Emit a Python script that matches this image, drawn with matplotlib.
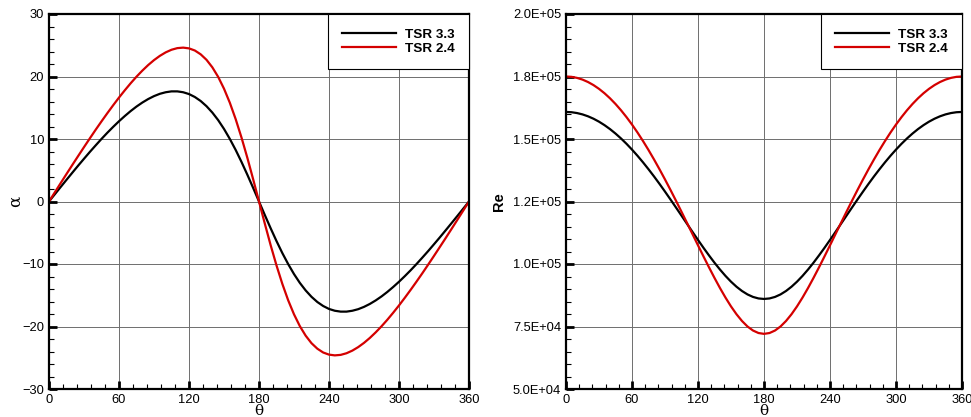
import matplotlib
matplotlib.use("Agg")
import matplotlib.pyplot as plt
from matplotlib.ticker import MultipleLocator, FixedLocator, FixedFormatter
import numpy as np

# azimuth angle (deg), read every 5 degrees
theta = np.arange(0, 361, 5)

# angle of attack (deg)
alpha_33 = [0, 1.16, 2.32, 3.47, 4.61, 5.74, 6.84, 7.93, 8.98, 10.01, 11.00, 11.94, 12.84,
            13.68, 14.47, 15.19, 15.83, 16.39, 16.86, 17.23, 17.48, 17.62, 17.62, 17.48,
            17.19, 16.72, 16.08, 15.25, 14.23, 13.02, 11.61, 10.01, 8.25, 6.33, 4.29, 2.17,
            0, -2.17, -4.29, -6.33, -8.25, -10.01, -11.61, -13.02, -14.23, -15.25, -16.08,
            -16.72, -17.19, -17.48, -17.62, -17.62, -17.48, -17.23, -16.86, -16.39, -15.83,
            -15.19, -14.47, -13.68, -12.84, -11.94, -11.00, -10.01, -8.98, -7.93, -6.84,
            -5.74, -4.61, -3.47, -2.32, -1.16, 0]
alpha_24 = [0, 1.47, 2.94, 4.40, 5.85, 7.28, 8.70, 10.10, 11.48, 12.82, 14.13, 15.40, 16.63,
            17.80, 18.92, 19.97, 20.94, 21.83, 22.62, 23.30, 23.86, 24.28, 24.54, 24.62,
            24.50, 24.16, 23.55, 22.67, 21.47, 19.94, 18.05, 15.80, 13.18, 10.23, 7.00, 3.55,
            0, -3.55, -7.00, -10.23, -13.18, -15.80, -18.05, -19.94, -21.47, -22.67, -23.55,
            -24.16, -24.50, -24.62, -24.54, -24.28, -23.86, -23.30, -22.62, -21.83, -20.94,
            -19.97, -18.92, -17.80, -16.63, -15.40, -14.13, -12.82, -11.48, -10.10, -8.70,
            -7.28, -5.85, -4.40, -2.94, -1.47, 0]

# Reynolds number
re_33 = [160820, 160710, 160380, 159840, 159080, 158110, 156930, 155540, 153960, 152180,
         150220, 148080, 145760, 143290, 140670, 137910, 135040, 132050, 128960, 125800,
         122590, 119340, 116080, 112830, 109620, 106470, 103430, 100510, 97770, 95230,
         92930, 90910, 89200, 87830, 86830, 86220, 86020, 86220, 86830, 87830, 89200,
         90910, 92930, 95230, 97770, 100510, 103430, 106470, 109620, 112830, 116080,
         119340, 122590, 125800, 128960, 132050, 135040, 137910, 140670, 143290, 145760,
         148080, 150220, 152180, 153960, 155540, 156930, 158110, 159080, 159840, 160380,
         160710, 160820]
re_24 = [175000, 174860, 174450, 173760, 172790, 171560, 170060, 168300, 166280, 164010,
         161500, 158750, 155780, 152590, 149190, 145600, 141830, 137900, 133820, 129620,
         125300, 120900, 116440, 111960, 107470, 103030, 98660, 94430, 90370, 86560,
         83040, 79900, 77200, 75000, 73390, 72390, 72060, 72390, 73390, 75000, 77200,
         79900, 83040, 86560, 90370, 94430, 98660, 103030, 107470, 111960, 116440,
         120900, 125300, 129620, 133820, 137900, 141830, 145600, 149190, 152590, 155780,
         158750, 161500, 164010, 166280, 168300, 170060, 171560, 172790, 173760, 174450,
         174860, 175000]

labels = ["TSR 3.3", "TSR 2.4"]
colors = ["black", "#d40000"]

re_ticks = [50000, 75000, 100000, 125000, 150000, 175000, 200000]
re_ticklabels = ["5.0E+04", "7.5E+04", "1.0E+05", "1.2E+05", "1.5E+05", "1.8E+05", "2.0E+05"]

plt.rcParams["font.family"] = ["Liberation Sans", "DejaVu Sans"]
plt.rcParams["font.size"] = 9.3

fig = plt.figure(figsize=(9.71, 4.17), dpi=100)
ax1 = fig.add_axes([49 / 971, 1 - 389 / 417, 420 / 971, 375 / 417])
ax2 = fig.add_axes([566 / 971, 1 - 389 / 417, 396 / 971, 375 / 417])


def style(ax):
    ax.set_xlim(0, 360)
    ax.xaxis.set_major_locator(MultipleLocator(60))
    ax.xaxis.set_minor_locator(MultipleLocator(12))
    ax.grid(True, which="major", color="#6e6e6e", linewidth=0.7)
    ax.set_axisbelow(True)
    ax.tick_params(which="major", direction="in", length=6, width=2, pad=3.5,
                   top=False, right=False)
    ax.tick_params(which="minor", direction="in", length=3.5, width=0.8,
                   top=False, right=False)
    for s in ax.spines.values():
        s.set_linewidth(1.6)
    ax.set_xlabel("θ", family="DejaVu Serif", fontsize=11, labelpad=-1)
    leg = ax.legend(loc="upper right", bbox_to_anchor=(1, 1), borderaxespad=0,
                    fancybox=False, edgecolor="black", framealpha=1,
                    handlelength=4.0, handletextpad=0.7, borderpad=1.05,
                    labelspacing=0.15, prop={"weight": "bold", "size": 9.7})
    leg.get_frame().set_linewidth(0.8)


for y, lab, c in zip([alpha_33, alpha_24], labels, colors):
    ax1.plot(theta, y, color=c, linewidth=1.6, label=lab)
ax1.set_ylim(-30, 30)
ax1.yaxis.set_major_locator(MultipleLocator(10))
ax1.yaxis.set_minor_locator(MultipleLocator(2))
ax1.set_ylabel("α", family="DejaVu Serif", fontsize=12, labelpad=-1)
style(ax1)

for y, lab, c in zip([re_33, re_24], labels, colors):
    ax2.plot(theta, y, color=c, linewidth=1.6, label=lab)
ax2.set_ylim(50000, 200000)
ax2.yaxis.set_major_locator(FixedLocator(re_ticks))
ax2.yaxis.set_major_formatter(FixedFormatter(re_ticklabels))
ax2.yaxis.set_minor_locator(MultipleLocator(5000))
ax2.set_ylabel("Re", fontweight="bold", fontsize=10.5, labelpad=5)
style(ax2)

fig.savefig("out.png", dpi=100)
